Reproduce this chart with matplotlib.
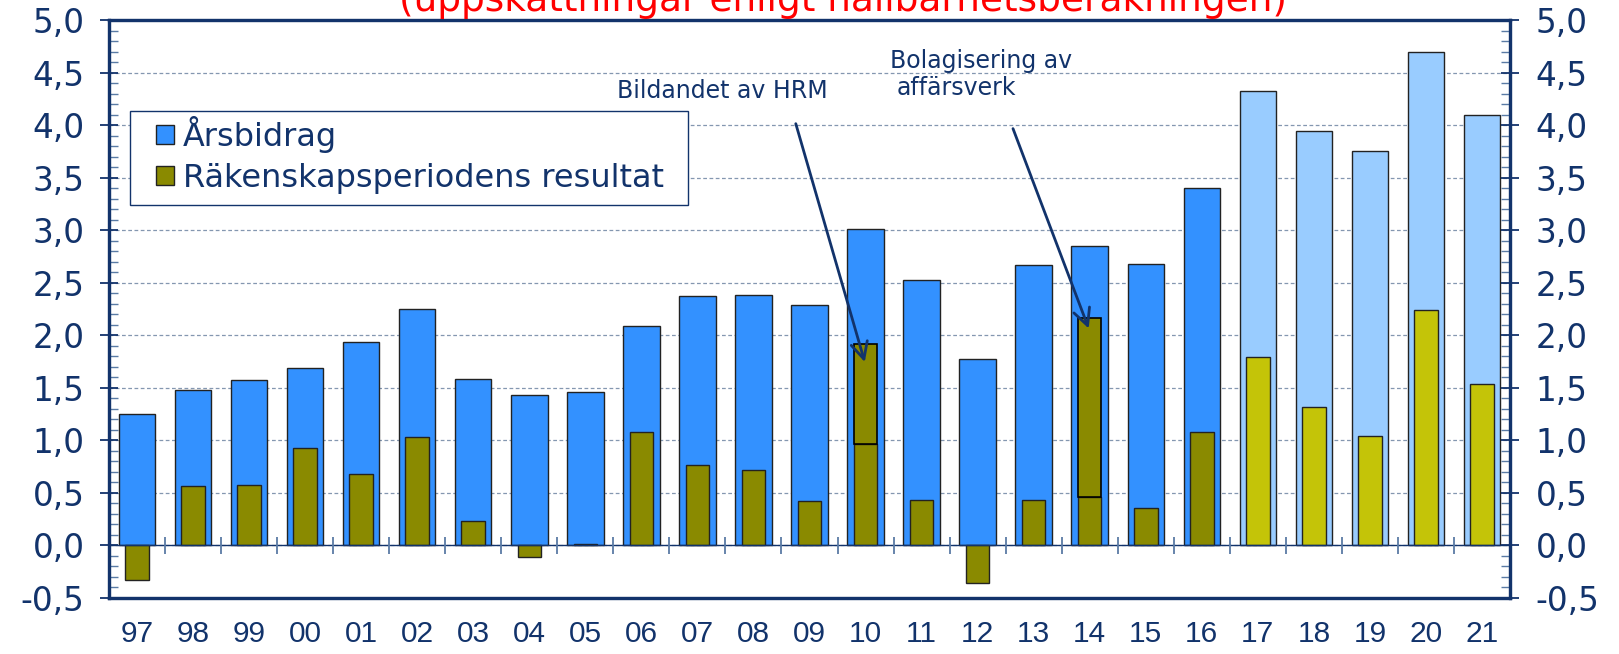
import matplotlib
matplotlib.use('Agg')
import matplotlib.pyplot as plt
from matplotlib.patches import Patch, Rectangle
from matplotlib.ticker import MultipleLocator, FuncFormatter
import numpy as np

# ---- data ----
years = ['97', '98', '99', '00', '01', '02', '03', '04', '05', '06', '07', '08', '09',
         '10', '11', '12', '13', '14', '15', '16', '17', '18', '19', '20', '21']
arsbidrag = [1.25, 1.48, 1.57, 1.69, 1.94, 2.25, 1.58, 1.43, 1.46, 2.09, 2.37, 2.38, 2.29,
             3.01, 2.53, 1.77, 2.67, 2.85, 2.68, 3.40, 4.32, 3.94, 3.75, 4.70, 4.10]
resultat = [-0.33, 0.57, 0.58, 0.93, 0.68, 1.03, 0.23, -0.11, 0.01, 1.08, 0.77, 0.72, 0.42,
            0.97, 0.43, -0.36, 0.43, 0.46, 0.36, 1.08, 1.79, 1.32, 1.04, 2.24, 1.54]
# extra one-off part of the result (stacked on top) in 2010 and 2014
resultat_extra = [0, 0, 0, 0, 0, 0, 0, 0, 0, 0, 0, 0, 0,
                  0.95, 0, 0, 0, 1.70, 0, 0, 0, 0, 0, 0, 0]
forecast_start = '17'
legend_labels = ['Årsbidrag', 'Räkenskapsperiodens resultat']
title = '(uppskattningar enligt hållbarhetsberäkningen)'
annotations = ['Bildandet av HRM', 'Bolagisering av\naffärsverk']
annot_years = ['10', '14']

# ---- style ----
NAVY = '#12336B'
BLUE, LBLUE = '#3391FF', '#99CCFF'
OLIVE, YELLOW = '#8A8A00', '#C4C408'
EDGE = '#222222'

W, H = 1619, 654
fig = plt.figure(figsize=(W / 100, H / 100), dpi=100)
ax = fig.add_axes([109 / W, 1 - 598 / H, 1401 / W, (598 - 20) / H])

x = np.arange(len(years))
fi = years.index(forecast_start)
bcol = [BLUE if i < fi else LBLUE for i in x]
rcol = [OLIVE if i < fi else YELLOW for i in x]

ax.bar(x, arsbidrag, width=0.65, color=bcol, edgecolor=EDGE, linewidth=1.0, zorder=3)
ax.bar(x, resultat, width=0.42, color=rcol, edgecolor=EDGE, linewidth=1.0, zorder=4)
extra = np.array(resultat_extra)
mask = extra != 0
ax.bar(x[mask], extra[mask], bottom=np.array(resultat)[mask], width=0.42,
       color=OLIVE, edgecolor='black', linewidth=1.2, zorder=4)

ax.set_xlim(-0.5, len(years) - 0.5)
ax.set_ylim(-0.5, 5.0)

# zero line with category-boundary ticks
ax.axhline(0, color=NAVY, lw=1.0, zorder=5)
ax.vlines(x[:-1] + 0.5, -0.08, 0.08, color='#5A7BA5', lw=1.3, zorder=5)

# grid
fmt = FuncFormatter(lambda v, p: f'{v:.1f}'.replace('.', ','))
ax.yaxis.set_major_locator(MultipleLocator(0.5))
ax.yaxis.set_minor_locator(MultipleLocator(0.1))
ax.yaxis.grid(True, which='major', color='#8497B0', lw=0.9, ls=(0, (3, 2)), zorder=0)
ax.set_axisbelow(True)
ax.yaxis.set_major_formatter(fmt)
ax.tick_params(axis='y', which='major', direction='inout', length=13, width=1.3,
               color=NAVY, labelsize=23.5, labelcolor=NAVY, pad=11,
               left=True, right=False, labelleft=True, labelright=False)
ax.tick_params(axis='y', which='minor', direction='in', length=6.5, width=1.0,
               color='#5A7BA5', left=True, right=False)

# right-hand axis (same scale)
ax2 = ax.twinx()
ax2.set_ylim(ax.get_ylim())
ax2.yaxis.set_major_locator(MultipleLocator(0.5))
ax2.yaxis.set_minor_locator(MultipleLocator(0.1))
ax2.yaxis.set_major_formatter(fmt)
ax2.tick_params(axis='y', which='major', direction='inout', length=13, width=1.3,
                color=NAVY, labelsize=23.5, labelcolor=NAVY, pad=12)
ax2.tick_params(axis='y', which='minor', direction='in', length=6.5, width=1.0,
                color='#5A7BA5')

ax.set_xticks(x)
ax.set_xticklabels(years, family=['Liberation Sans Narrow', 'Liberation Sans'])
ax.tick_params(axis='x', length=0, labelsize=21.5, labelcolor=NAVY, pad=16)

for a in (ax, ax2):
    for s in a.spines.values():
        s.set_color(NAVY)
        s.set_linewidth(2.3)

# legend (frame drawn separately to match the wide padding)
handles = [Patch(facecolor=BLUE, edgecolor=EDGE), Patch(facecolor=OLIVE, edgecolor=EDGE)]
fig.patches.append(Rectangle((130 / W, 1 - 205 / H), 558 / W, 94 / H,
                             transform=fig.transFigure, facecolor='white',
                             edgecolor=NAVY, linewidth=1.0, zorder=9))
leg = fig.legend(handles, legend_labels, loc='upper left',
                 bbox_to_anchor=(156 / W, 1 - 116 / H), borderaxespad=0,
                 fontsize=23, frameon=False,
                 handlelength=0.55, handleheight=0.55, handletextpad=0.28,
                 labelspacing=0.3, borderpad=0)
for t in leg.get_texts():
    t.set_color(NAVY)
leg.set_zorder(10)

# annotations
i1 = years.index(annot_years[0])
i2 = years.index(annot_years[1])
ax.annotate('', xy=(i1, resultat[i1] + resultat_extra[i1] - 0.2), xycoords='data',
            xytext=(795 / W, 1 - 121 / H), textcoords='figure fraction',
            arrowprops=dict(arrowstyle='->', color=NAVY, lw=2.0, mutation_scale=30),
            zorder=8)
ax.annotate('', xy=(i2, resultat[i2] + resultat_extra[i2] - 0.12), xycoords='data',
            xytext=(1012 / W, 1 - 126 / H), textcoords='figure fraction',
            arrowprops=dict(arrowstyle='->', color=NAVY, lw=2.0, mutation_scale=30),
            zorder=8)
fig.text(722 / W, 1 - 91.5 / H, annotations[0], ha='center', va='center',
         fontsize=17, color=NAVY)
line1, line2 = annotations[1].split('\n')
fig.text(890 / W, 1 - 68 / H, line1, ha='left', va='baseline', fontsize=17, color=NAVY)
fig.text(897 / W, 1 - 95 / H, line2, ha='left', va='baseline', fontsize=17, color=NAVY)

# title (cut off at the top in the original)
fig.text(843 / W, 1 - 11 / H, title, ha='center', va='baseline',
         fontsize=27, color='#FF0000')

fig.savefig('out.png', dpi=100)
